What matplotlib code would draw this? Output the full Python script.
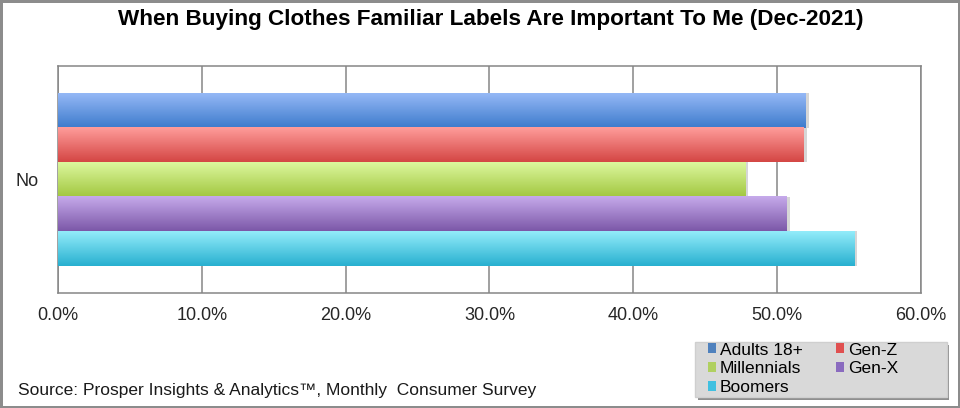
"""
Familiar labels survey - horizontal grouped bars.
"""
import numpy as np
import matplotlib.pyplot as plt
from matplotlib.colors import LinearSegmentedColormap
from matplotlib.patches import Rectangle

plt.rcParams['font.family'] = ['Liberation Sans', 'DejaVu Sans']

# data
category = 'No'
groups = ['Adults 18+', 'Gen-Z', 'Millennials', 'Gen-X', 'Boomers']
values = [52.0, 51.9, 47.8, 50.7, 55.4]  # percent
x_ticks = [0, 10, 20, 30, 40, 50, 60]

# light top / dark bottom for each bar
top_colors = ['#95b8f6', '#ff9d9b', '#dcf79e', '#c6aaeb', '#93ecfa']
bottom_colors = ['#3d7bcc', '#d44644', '#a2c740', '#7c58a8', '#28b0d0']
legend_colors = ['#4f81bd', '#e05050', '#b0d060', '#8a6bbf', '#40c0e0']

fig = plt.figure(figsize=(9.6, 4.08), dpi=100)
fig.patch.set_facecolor('white')
fig.patch.set_edgecolor('#8c8c8c')
fig.patch.set_linewidth(2.5)

ax = fig.add_axes([0.0607, 0.2819, 0.8983, 0.5561])

h = 0.1524
n = len(groups)
offsets = [(n - 1) / 2 * h - i * h for i in range(n)]

handles = []
for i, (g, v) in enumerate(zip(groups, values)):
    bars = ax.barh(offsets[i], v, height=h, color=legend_colors[i],
                   edgecolor='none', zorder=3, label=g)
    handles.append(bars)
    # gradient fill on each bar
    cmap = LinearSegmentedColormap.from_list('g%d' % i,
                                             [bottom_colors[i], top_colors[i]])
    for p in bars.patches:
        x0, y0 = p.get_x(), p.get_y()
        w, hh = p.get_width(), p.get_height()
        # soft shadow on the right
        ax.barh(y0 + hh / 2, w + 0.2, height=hh, color='#d6d6d6',
                edgecolor='none', zorder=2)
        grad = np.linspace(0, 1, 100).reshape(-1, 1)
        ax.imshow(grad, extent=[x0, x0 + w, y0, y0 + hh], origin='lower',
                  aspect='auto', cmap=cmap, zorder=4, interpolation='bicubic')

ax.set_xlim(0, 60)
ax.set_ylim(-0.5, 0.5)
ax.set_xticks(x_ticks)
ax.set_xticklabels(['%.1f%%' % t for t in x_ticks])
ax.set_yticks([0])
ax.set_yticklabels([category])
ax.tick_params(axis='x', length=0, pad=10, labelsize=13, labelcolor='#262626')
ax.tick_params(axis='y', length=0, pad=14, labelsize=13, labelcolor='#262626')
ax.grid(axis='x', color='#868686', linewidth=1.1, zorder=1)
ax.set_axisbelow(True)
for s in ax.spines.values():
    s.set_color('#868686')
    s.set_linewidth(1.1)

fig.text(0.511, 0.953, 'When Buying Clothes Familiar Labels Are Important To Me (Dec-2021)',
         ha='center', va='center', fontsize=16.2, fontweight='bold')

fig.text(0.019, 0.044, 'Source: Prosper Insights & Analytics\u2122, Monthly  Consumer Survey',
         ha='left', va='center', fontsize=12.5, color='#1a1a1a')

# legend box with shadow
fig.patches.append(Rectangle((0.727, 0.020), 0.262, 0.135, transform=fig.transFigure,
                             facecolor='#8f8f8f', edgecolor='none', zorder=1))
fig.patches.append(Rectangle((0.724, 0.027), 0.262, 0.135, transform=fig.transFigure,
                             facecolor='#d9d9d9', edgecolor='#cfcfcf', zorder=2))

# legend: row-wise order in 2 columns
order = [0, 2, 4, 1, 3]
leg = fig.legend([handles[k] for k in order], [groups[k] for k in order],
                 ncol=2, loc='center left', bbox_to_anchor=(0.737, 0.096),
                 fontsize=12.5, frameon=False, handlelength=0.5, handleheight=0.5,
                 handletextpad=0.2, labelspacing=0.22, borderpad=0,
                 columnspacing=1.9, borderaxespad=0)
leg.set_zorder(5)

fig.savefig('out.png', dpi=100)
